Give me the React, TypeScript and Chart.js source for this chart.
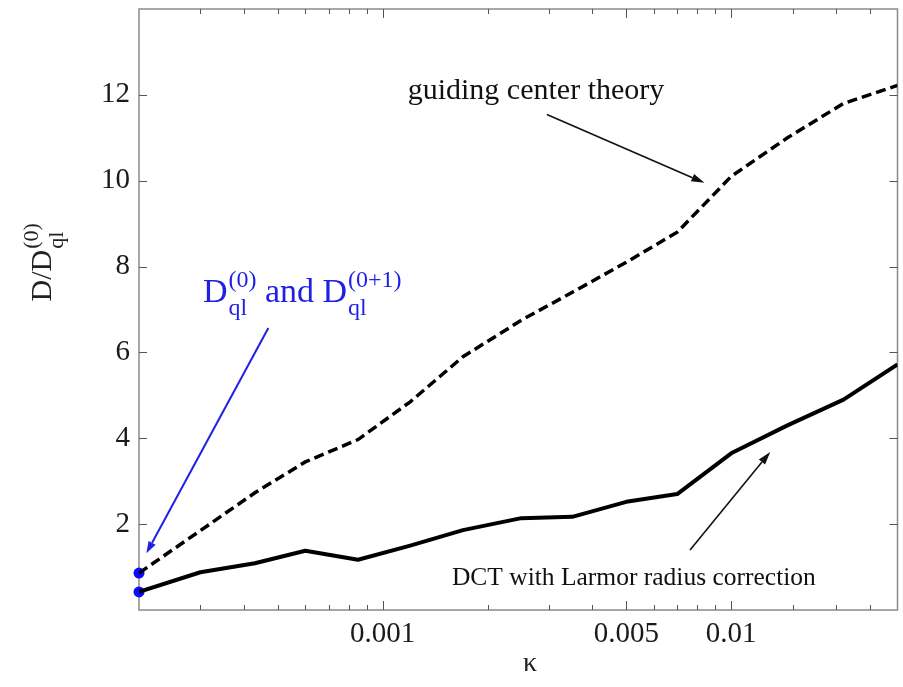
import React, { useEffect, useRef } from 'react';
import { Chart, registerables } from 'chart.js';

Chart.register(...registerables);

// ---- data ----
const kappa = [0.0002, 0.0003, 0.00043, 0.0006, 0.00085, 0.0012, 0.0017, 0.0025, 0.0035, 0.005, 0.007, 0.01, 0.0145, 0.021, 0.03];
const guidingCenter = [0.86, 1.85, 2.73, 3.45, 3.97, 4.85, 5.9, 6.75, 7.4, 8.1, 8.8, 10.1, 11.0, 11.8, 12.22];
const dctLarmor = [0.42, 0.88, 1.09, 1.38, 1.17, 1.5, 1.86, 2.14, 2.17, 2.52, 2.7, 3.65, 4.3, 4.9, 5.72];
const quasilinearKappa = [0.0002, 0.0002];
const quasilinearValues = [0.86, 0.42];

const xMajorTicks = [0.001, 0.005, 0.01];
const xMinorTicks = [0.0003, 0.0004, 0.0005, 0.0006, 0.0007, 0.0008, 0.0009, 0.002, 0.003, 0.004, 0.006, 0.007, 0.008, 0.009, 0.015, 0.02, 0.025];
const yTicks = [2, 4, 6, 8, 10, 12];

const xMin = 0.0002;
const xMax = 0.03;
const yMin = 0;
const yMax = 14;

// annotation anchors in data space
const guidingLabel = { text: 'guiding center theory', k: 0.00118, v: 11.9 };
const guidingArrow = { k1: 0.00296, v1: 11.54, k2: 0.00838, v2: 9.95 };
const dctLabel = { text: 'DCT with Larmor radius correction', k: 0.00158, v: 0.58 };
const dctArrow = { k1: 0.00762, v1: 1.4, k2: 0.01294, v2: 3.68 };
const qlLabel = { k: 0.000305, v: 7.18 };
const qlArrow = { k1: 0.00047, v1: 6.57, k2: 0.00021, v2: 1.32 };
const yTitleCenterValue = 8.1;
const xTitleKappa = 0.00265;

const SERIF = '"Liberation Serif", "Times New Roman", serif';
const BLUE = '#1f1fe6';

function drawArrow(ctx: CanvasRenderingContext2D, x1: number, y1: number, x2: number, y2: number, color: string, width: number, headLen: number, headHalf: number) {
  const ang = Math.atan2(y2 - y1, x2 - x1);
  const bx = x2 - headLen * Math.cos(ang);
  const by = y2 - headLen * Math.sin(ang);
  ctx.save();
  ctx.strokeStyle = color;
  ctx.fillStyle = color;
  ctx.lineWidth = width;
  ctx.beginPath();
  ctx.moveTo(x1, y1);
  ctx.lineTo(bx, by);
  ctx.stroke();
  ctx.beginPath();
  ctx.moveTo(x2, y2);
  ctx.lineTo(bx + headHalf * Math.sin(ang), by - headHalf * Math.cos(ang));
  ctx.lineTo(bx - headHalf * Math.sin(ang), by + headHalf * Math.cos(ang));
  ctx.closePath();
  ctx.fill();
  ctx.restore();
}

// draws "D" with sub "ql" and sup text; returns end x
function drawDql(ctx: CanvasRenderingContext2D, x: number, base: number, sup: string, main: number, small: number, prefix = 'D') {
  ctx.font = `${main}px ${SERIF}`;
  ctx.fillText(prefix, x, base);
  const w = ctx.measureText(prefix).width;
  ctx.font = `${small}px ${SERIF}`;
  ctx.fillText(sup, x + w + 1, base - 0.44 * main);
  ctx.fillText('ql', x + w + 1, base + 0.4 * main);
  const ws = Math.max(ctx.measureText(sup).width, ctx.measureText('ql').width);
  return x + w + 1 + ws;
}

const framePlugin = {
  id: 'frameTicks',
  beforeDatasetsDraw(chart: any) {
    const { ctx, chartArea } = chart;
    const xs = chart.scales.x;
    const ys = chart.scales.y;
    const { left, right, top, bottom } = chartArea;
    ctx.save();
    ctx.strokeStyle = '#8a8a8a';
    ctx.lineWidth = 1.5;
    ctx.strokeRect(left, top, right - left, bottom - top);
    ctx.strokeStyle = '#555';
    ctx.lineWidth = 1;
    const tickX = (vals: number[], len: number) => {
      for (const v of vals) {
        const p = Math.round(xs.getPixelForValue(v)) + 0.5;
        ctx.beginPath();
        ctx.moveTo(p, bottom);
        ctx.lineTo(p, bottom - len);
        ctx.moveTo(p, top);
        ctx.lineTo(p, top + len);
        ctx.stroke();
      }
    };
    tickX(xMinorTicks, 5);
    tickX(xMajorTicks, 9);
    for (const v of yTicks) {
      const p = Math.round(ys.getPixelForValue(v)) + 0.5;
      ctx.beginPath();
      ctx.moveTo(left, p);
      ctx.lineTo(left + 8, p);
      ctx.moveTo(right, p);
      ctx.lineTo(right - 8, p);
      ctx.stroke();
    }
    ctx.restore();
  },
  afterDraw(chart: any) {
    const { ctx } = chart;
    const xs = chart.scales.x;
    const ys = chart.scales.y;
    const px = (k: number) => xs.getPixelForValue(k);
    const py = (v: number) => ys.getPixelForValue(v);
    ctx.save();
    ctx.textBaseline = 'alphabetic';
    ctx.textAlign = 'left';

    // black annotations
    ctx.fillStyle = '#111';
    ctx.font = `30px ${SERIF}`;
    ctx.fillText(guidingLabel.text, px(guidingLabel.k), py(guidingLabel.v));
    drawArrow(ctx, px(guidingArrow.k1), py(guidingArrow.v1), px(guidingArrow.k2), py(guidingArrow.v2), '#111', 1.6, 13, 4);
    ctx.fillStyle = '#111';
    ctx.font = `25.5px ${SERIF}`;
    ctx.fillText(dctLabel.text, px(dctLabel.k), py(dctLabel.v));
    drawArrow(ctx, px(dctArrow.k1), py(dctArrow.v1), px(dctArrow.k2), py(dctArrow.v2), '#111', 1.6, 13, 4);

    // blue annotation
    ctx.fillStyle = BLUE;
    let x = px(qlLabel.k);
    const base = py(qlLabel.v);
    x = drawDql(ctx, x, base, '(0)', 34, 24);
    ctx.font = `34px ${SERIF}`;
    ctx.fillText(' and ', x, base);
    x += ctx.measureText(' and ').width;
    drawDql(ctx, x, base, '(0+1)', 34, 24);
    drawArrow(ctx, px(qlArrow.k1), py(qlArrow.v1), px(qlArrow.k2), py(qlArrow.v2), BLUE, 2, 12, 4);

    // x axis title
    ctx.fillStyle = '#222';
    ctx.font = `28px ${SERIF}`;
    ctx.textAlign = 'center';
    ctx.textBaseline = 'middle';
    ctx.fillText('\u03BA', px(xTitleKappa), 664);

    // y axis title (rotated)
    ctx.translate(51, py(yTitleCenterValue));
    ctx.rotate(-Math.PI / 2);
    ctx.textAlign = 'left';
    ctx.textBaseline = 'alphabetic';
    ctx.font = `30px ${SERIF}`;
    const wMain = ctx.measureText('D/D').width;
    ctx.font = `22px ${SERIF}`;
    const wSmall = Math.max(ctx.measureText('(0)').width, ctx.measureText('ql').width);
    const start = -(wMain + 1 + wSmall) / 2;
    drawDql(ctx, start, 0, '(0)', 30, 22, 'D/D');
    ctx.restore();
  },
};

export default function App() {
  const ref = useRef<HTMLCanvasElement>(null);
  useEffect(() => {
    const canvas = ref.current;
    if (!canvas) return;
    const chart = new Chart(canvas, {
      type: 'line',
      data: {
        datasets: [
          {
            label: 'guiding center theory',
            data: kappa.map((k, i) => ({ x: k, y: guidingCenter[i] })),
            borderColor: '#000',
            borderWidth: 3.5,
            borderDash: [10, 5],
            borderCapStyle: 'butt',
            pointRadius: 0,
            fill: false,
            tension: 0,
          },
          {
            label: 'DCT with Larmor radius correction',
            data: kappa.map((k, i) => ({ x: k, y: dctLarmor[i] })),
            borderColor: '#000',
            borderWidth: 4,
            borderJoinStyle: 'round',
            pointRadius: 0,
            fill: false,
            tension: 0,
          },
          {
            label: 'quasilinear',
            data: quasilinearKappa.map((k, i) => ({ x: k, y: quasilinearValues[i] })),
            showLine: false,
            pointRadius: 5.5,
            pointBackgroundColor: '#0a0aff',
            pointBorderWidth: 0,
            clip: false,
          } as any,
        ],
      },
      options: {
        animation: false,
        responsive: false,
        devicePixelRatio: 1,
        layout: { padding: { top: 9, right: 4, left: 0, bottom: 0 } },
        plugins: { legend: { display: false }, tooltip: { enabled: false } },
        scales: {
          x: {
            type: 'logarithmic',
            min: xMin,
            max: xMax,
            grid: { display: false, drawTicks: false },
            border: { display: false },
            afterBuildTicks: (scale: any) => {
              scale.ticks = [...xMinorTicks, ...xMajorTicks].sort((a, b) => a - b).map((v) => ({ value: v }));
            },
            afterFit: (scale: any) => {
              scale.height = 77;
              scale.paddingLeft = 0;
              scale.paddingRight = 0;
            },
            ticks: {
              autoSkip: false,
              maxRotation: 0,
              minRotation: 0,
              padding: 7,
              color: '#1a1a1a',
              font: { family: SERIF, size: 29 },
              callback: (value: any) => (xMajorTicks.includes(value) ? String(value) : ''),
            },
          },
          y: {
            type: 'linear',
            min: yMin,
            max: yMax,
            grid: { display: false, drawTicks: false },
            border: { display: false },
            afterBuildTicks: (scale: any) => {
              scale.ticks = yTicks.map((v) => ({ value: v }));
            },
            afterFit: (scale: any) => {
              scale.width = 139;
              scale.paddingTop = 0;
              scale.paddingBottom = 0;
            },
            ticks: {
              padding: 9,
              color: '#1a1a1a',
              font: { family: SERIF, size: 29 },
              callback: (value: any) => String(value),
            },
          },
        },
      } as any,
      plugins: [framePlugin],
    });
    return () => chart.destroy();
  }, []);
  return (
    <div style={{ position: 'absolute', left: 0, top: 0, width: 903, height: 687, background: '#fff' }}>
      <canvas ref={ref} width={903} height={687} style={{ display: 'block' }} />
    </div>
  );
}
